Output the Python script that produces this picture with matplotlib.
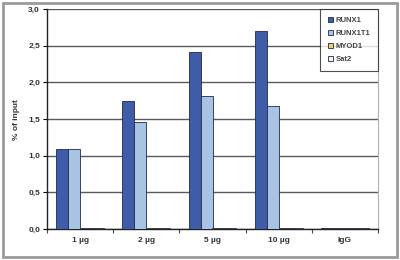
import numpy as np
import matplotlib
matplotlib.use("Agg")
import matplotlib.pyplot as plt
from matplotlib.patches import Rectangle

plt.rcParams["font.family"] = ["Liberation Sans", "DejaVu Sans"]

categories = ["1 µg", "2 µg", "5 µg", "10 µg", "IgG"]
series_names = ["RUNX1", "RUNX1T1", "MYOD1", "Sat2"]
runx1 = [1.09, 1.75, 2.42, 2.70, 0.01]
runx1t1 = [1.09, 1.46, 1.82, 1.68, 0.01]
myod1 = [0.01, 0.01, 0.01, 0.01, 0.01]
sat2 = [0.01, 0.01, 0.01, 0.01, 0.01]
yticks = [0.0, 0.5, 1.0, 1.5, 2.0, 2.5, 3.0]
ytick_labels = ["0,0", "0,5", "1,0", "1,5", "2,0", "2,5", "3,0"]

COLORS = ["#3f5ca8", "#a9c3e5", "#e8d46a", "#eef2fa"]

fig = plt.figure(figsize=(4.0, 2.6), dpi=100)
ax = fig.add_axes([0.1175, 0.119, 0.8275, 0.846])

x = np.arange(len(categories))
w = 0.18
for i, (name, vals) in enumerate(zip(series_names, [runx1, runx1t1, myod1, sat2])):
    ax.bar(x + (i - 1.5) * w, vals, w, color=COLORS[i], edgecolor="#1e2a4a",
           linewidth=0.6, label=name, zorder=3)

ax.set_xlim(-0.5, len(categories) - 0.5)
ax.set_ylim(0, 3.0)
ax.set_yticks(yticks)
ax.set_yticklabels(ytick_labels, fontsize=6, fontweight="bold", color="#333333")
ax.set_xticks(x)
ax.set_xticklabels(categories, fontsize=6, fontweight="bold", color="#333333")
ax.set_xticks(np.arange(-0.5, len(categories), 1.0), minor=True)
ax.tick_params(axis="x", which="major", length=0, pad=6)
ax.tick_params(axis="x", which="minor", length=3, width=0.8, color="#444444")
ax.tick_params(axis="y", length=3, width=0.8, pad=2)

ax.grid(True, axis="y", color="#5a5a5a", linewidth=1.0, zorder=0)
ax.set_axisbelow(True)
ax.spines["top"].set_visible(False)
ax.spines["right"].set_color("#b0b0b0")
ax.spines["right"].set_linewidth(0.8)
ax.spines["left"].set_color("#222222")
ax.spines["bottom"].set_color("#222222")
ax.spines["left"].set_linewidth(1.0)
ax.spines["bottom"].set_linewidth(1.0)

ax.set_ylabel("% of input", fontsize=6, fontweight="bold", labelpad=6,
              color="#333333")

leg = ax.legend(loc="upper right", bbox_to_anchor=(1.0, 1.0), fontsize=5.5,
                frameon=True, fancybox=False, borderpad=1.0, labelspacing=0.75,
                handlelength=0.7, handleheight=0.7, handletextpad=0.35,
                borderaxespad=0)
leg.get_frame().set_edgecolor("#222222")
leg.get_frame().set_linewidth(0.8)
for t in leg.get_texts():
    t.set_color("#444444")
    t.set_fontweight("bold")

# gray border around the whole picture
fig.patches.append(Rectangle((0.008, 0.012), 0.984, 0.976, transform=fig.transFigure,
                             fill=False, edgecolor="#9a9a9a", linewidth=2))

fig.savefig("out.png", dpi=100)
